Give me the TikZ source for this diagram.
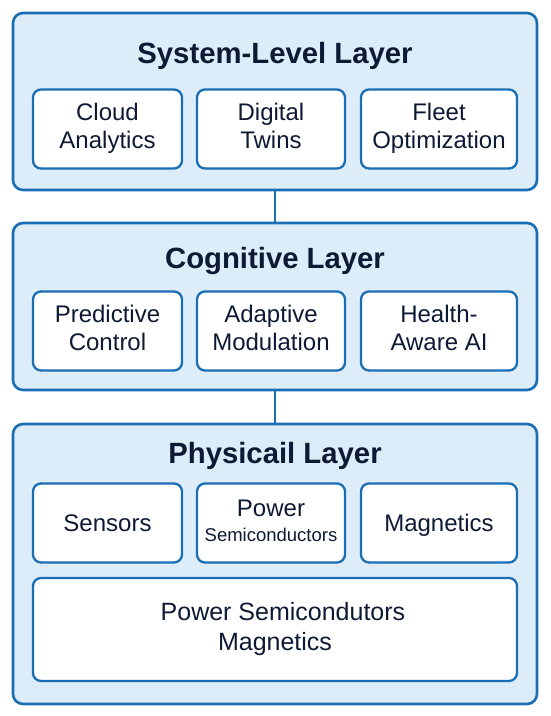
\documentclass[tikz,border=0pt]{standalone}
\usepackage{fontspec}
\setmainfont{Liberation Sans}
\usepackage{tikz}
\usetikzlibrary{positioning}
\definecolor{layerblue}{RGB}{26, 110, 180}
\definecolor{layerbg}{RGB}{221, 236, 249}
\definecolor{inktext}{RGB}{14, 26, 52}
\newcommand{\boxstrut}{\rule[-5.5pt]{0pt}{29pt}}
\tikzstyle{layer} = [draw=layerblue, fill=layerbg, line width=2.6pt, rounded corners=10pt, minimum width=524pt, outer sep=0pt]
\tikzstyle{block} = [draw=layerblue, fill=white, line width=2.3pt, rounded corners=8pt, minimum width=149pt, minimum height=79pt, inner sep=0pt, outer sep=0pt, align=center, text=inktext, font=\fontsize{24}{28}\selectfont, execute at begin node=\boxstrut, execute at end node=\boxstrut]
\tikzstyle{title} = [anchor=base, text=inktext, font=\bfseries\fontsize{29.3}{34}\selectfont]
\tikzstyle{line} = [draw=layerblue, line width=2.4pt]

\begin{document}
\begin{tikzpicture}[x=1pt, y=1pt, node distance=15pt]
    \useasboundingbox (0,0) rectangle (550,716);
    % layers
    \node (sys) [layer, minimum height=177pt] at (275,614.5) {};
    \node (cog) [layer, minimum height=167pt] at (275,409.5) {};
    \node (phys) [layer, minimum height=280pt] at (275,152) {};

    \draw [line] (sys) -- (cog);
    \draw [line] (cog) -- (phys);

    % system-level
    \node (systitle) [title] at (275,652) {System-Level Layer};
    \node (twins) [block, minimum width=148pt] at (271,587) {Digital\\Twins};
    \node (cloud) [block, left=of twins] {Cloud\\Analytics};
    \node (fleet) [block, minimum width=156pt, right=16pt of twins] {Fleet\\Optimization};

    % cognitive
    \node (cogtitle) [title] at (275,447) {Cognitive Layer};
    \node (adapt) [block, minimum width=148pt] at (271,385) {Adaptive\\Modulation};
    \node (predict) [block, left=of adapt] {Predictive\\Control};
    \node (health) [block, minimum width=156pt, right=16pt of adapt] {Health-\\Aware AI};

    % physical
    \node (phystitle) [title] at (275,252) {Physicail Layer};
    \node (semi) [block, minimum width=148pt] at (271,193) {Power\\[-3pt]{\fontsize{18.5}{22}\selectfont Semiconductors}};
    \node (sensors) [block, left=of semi] {Sensors};
    \node (magnet) [block, minimum width=156pt, right=16pt of semi] {Magnetics};
    \node (powmag) [block, minimum width=484pt, minimum height=103pt, font=\fontsize{25}{30}\selectfont] at (275,86.5) {\hspace*{16pt}Power Semicondutors\\Magnetics};
\end{tikzpicture}
\end{document}
